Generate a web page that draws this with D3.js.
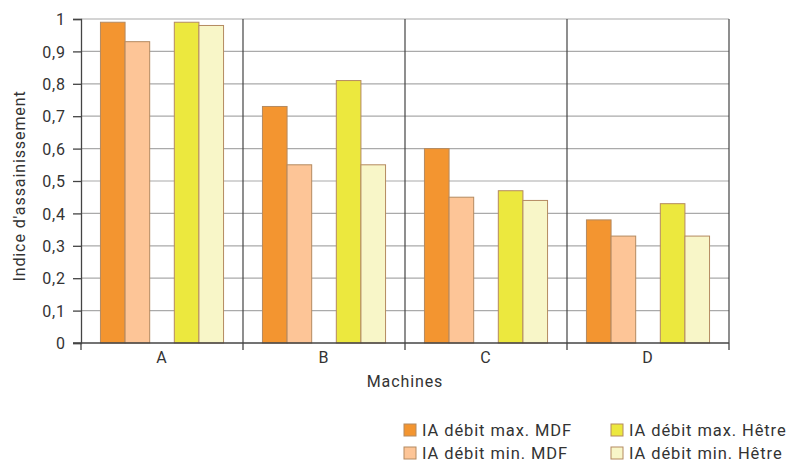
<!DOCTYPE html>
<html><head><meta charset="utf-8">
<script src="https://cdn.jsdelivr.net/npm/d3@7"></script>
<style>body{margin:0;background:#fff}svg{display:block}text{font-family:Roboto,"Noto Sans",sans-serif;fill:#333;letter-spacing:0.9px}</style>
</head><body><svg id="c" width="797" height="464"></svg>
<script>
const categories = ["A","B","C","D"];
const seriesNames = ["IA débit max. MDF","IA débit min. MDF","IA débit max. Hêtre","IA débit min. Hêtre"];
const maxMDF   = [0.99,0.73,0.60,0.38];
const minMDF   = [0.93,0.55,0.45,0.33];
const maxHetre = [0.99,0.81,0.47,0.43];
const minHetre = [0.98,0.55,0.44,0.33];
const yTicks = [0,0.1,0.2,0.3,0.4,0.5,0.6,0.7,0.8,0.9,1];
const colors = ["#f39530","#fdc597","#ece83e","#f8f6c8"];
const series = [maxMDF,minMDF,maxHetre,minHetre];
const slots = ["s0","s1","gap","s3","s4"];
const slotOf = ["s0","s1","s3","s4"];

const svg = d3.select("#c");
const L=81,R=729,T=19,B=343;
const x = d3.scaleBand().domain(categories).range([L,R]);
const xi = d3.scaleBand().domain(slots).range([0,x.bandwidth()]).paddingOuter(0.79).paddingInner(0);
const y = d3.scaleLinear().domain([0,1]).range([B,T]);
const fmt = d => d===0||d===1 ? String(d) : d3.format(".1f")(d).replace(".",",");

svg.append("g").selectAll("line").data(yTicks.filter(d=>d>0)).join("line")
  .attr("x1",L).attr("x2",R).attr("y1",d=>y(d)).attr("y2",d=>y(d))
  .attr("stroke","#aaa").attr("stroke-width",1.2);
svg.append("g").selectAll("line").data(categories.slice(1).concat(["end"])).join("line")
  .attr("x1",(d,i)=>i<3?x(d):R).attr("x2",(d,i)=>i<3?x(d):R)
  .attr("y1",T).attr("y2",B).attr("stroke","#444").attr("stroke-width",1.2);

series.forEach((vals,si)=>{
  svg.append("g").selectAll("rect").data(vals).join("rect")
    .attr("x",(d,i)=>x(categories[i])+xi(slotOf[si]))
    .attr("width",xi.bandwidth())
    .attr("y",d=>y(d)).attr("height",d=>B-y(d))
    .attr("fill",colors[si]).attr("stroke","#b48a60").attr("stroke-width",1);
});

const ya = svg.append("g").attr("transform",`translate(${L},0)`)
  .call(d3.axisLeft(y).tickValues(yTicks).tickFormat(fmt).tickSize(8).tickPadding(7));
ya.select(".domain").attr("stroke","#444").attr("stroke-width",1.3);
ya.selectAll(".tick line").attr("stroke","#444").attr("stroke-width",1.3);
ya.selectAll("text").style("font-size","16px").attr("fill","#333").attr("dy","0.35em");

const xa = svg.append("g").attr("transform",`translate(0,${B})`)
  .call(d3.axisBottom(x).tickSize(0).tickPadding(9));
xa.select(".domain").remove();
xa.selectAll("text").style("font-size","16px").attr("fill","#333");
svg.append("line").attr("x1",L-8).attr("x2",R).attr("y1",B).attr("y2",B).attr("stroke","#444").attr("stroke-width",1.5);
svg.append("g").selectAll("line").data(d3.range(5)).join("line")
  .attr("x1",i=>L+i*x.step()).attr("x2",i=>L+i*x.step()).attr("y1",B).attr("y2",B+7)
  .attr("stroke","#444").attr("stroke-width",1.3);

svg.append("text").attr("x",405).attr("y",387).attr("text-anchor","middle").style("font-size","16px").text("Machines");
svg.append("text").attr("transform","translate(25,186) rotate(-90)").attr("text-anchor","middle").style("font-size","16px").text("Indice d'assainissement");

const legPos = [[404,430],[404,453],[611,430],[611,453]];
seriesNames.forEach((n,i)=>{
  const [lx,ly]=legPos[i];
  svg.append("rect").attr("x",lx).attr("y",ly-6).attr("width",12).attr("height",12)
    .attr("fill",colors[i]).attr("stroke","#b48a60").attr("stroke-width",1);
  svg.append("text").attr("x",lx+18).attr("y",ly).attr("dy","0.35em").style("font-size","16.5px").text(n);
});
</script></body></html>
